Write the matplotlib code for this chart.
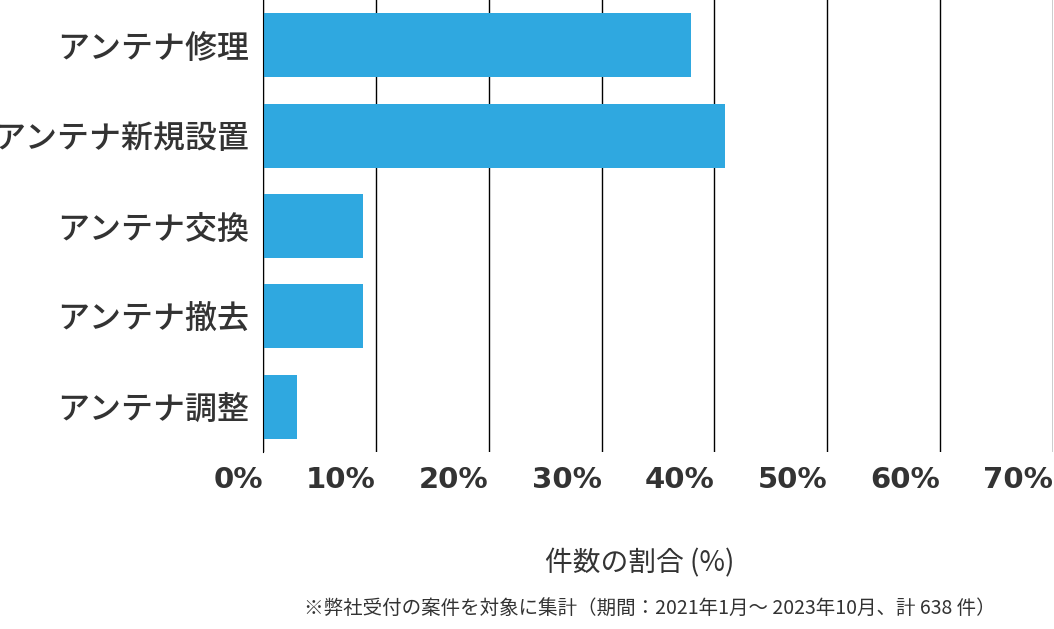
import matplotlib
matplotlib.use("Agg")
import matplotlib.pyplot as plt

plt.rcParams['font.family'] = ['Noto Sans CJK JP', 'DejaVu Sans']

categories = ["アンテナ修理", "アンテナ新規設置", "アンテナ交換", "アンテナ撤去", "アンテナ調整"]
values = [37.9, 40.9, 8.9, 8.9, 3.0]
ticks = [0, 10, 20, 30, 40, 50, 60, 70]
tick_labels = [f"{t}%" for t in ticks]

fig = plt.figure(figsize=(10.54, 6.29), dpi=100)
ax = fig.add_axes([263/1054, 1-452/629, (1053-263)/1054, 452/629])
y = list(range(len(categories)))
ax.barh(y, values, height=0.71, color="#2fa8e0", zorder=2)
ax.set_ylim(len(categories)-0.5, -0.5)
ax.set_xlim(0, 70)
ax.set_xticks(ticks)
ax.set_xticklabels(tick_labels, fontsize=21, fontweight='bold', color='#333333',
                   family='DejaVu Sans', ha='right')
ax.set_yticks(y)
ax.set_yticklabels(categories, fontsize=23, color='#333333', fontweight='medium')
ax.tick_params(axis='y', length=0, pad=10)
ax.tick_params(axis='x', length=0, pad=10)
ax.grid(axis='x', color='black', linewidth=1, zorder=0)
for s in ['top', 'bottom', 'right']:
    ax.spines[s].set_visible(False)
ax.spines['left'].set_color('black')
ax.set_xlabel("件数の割合 (%)", fontsize=20, color='#333333', labelpad=28)
ax.xaxis.set_label_coords((640-263)/(1053-263), -(548-452)/452)
fig.text(650/1054, 1-608/629, "※弊社受付の案件を対象に集計（期間：2021年1月～ 2023年10月、計 638 件）",
         ha='center', va='center', fontsize=14, color='#333333')
fig.savefig("out.png", dpi=100)
